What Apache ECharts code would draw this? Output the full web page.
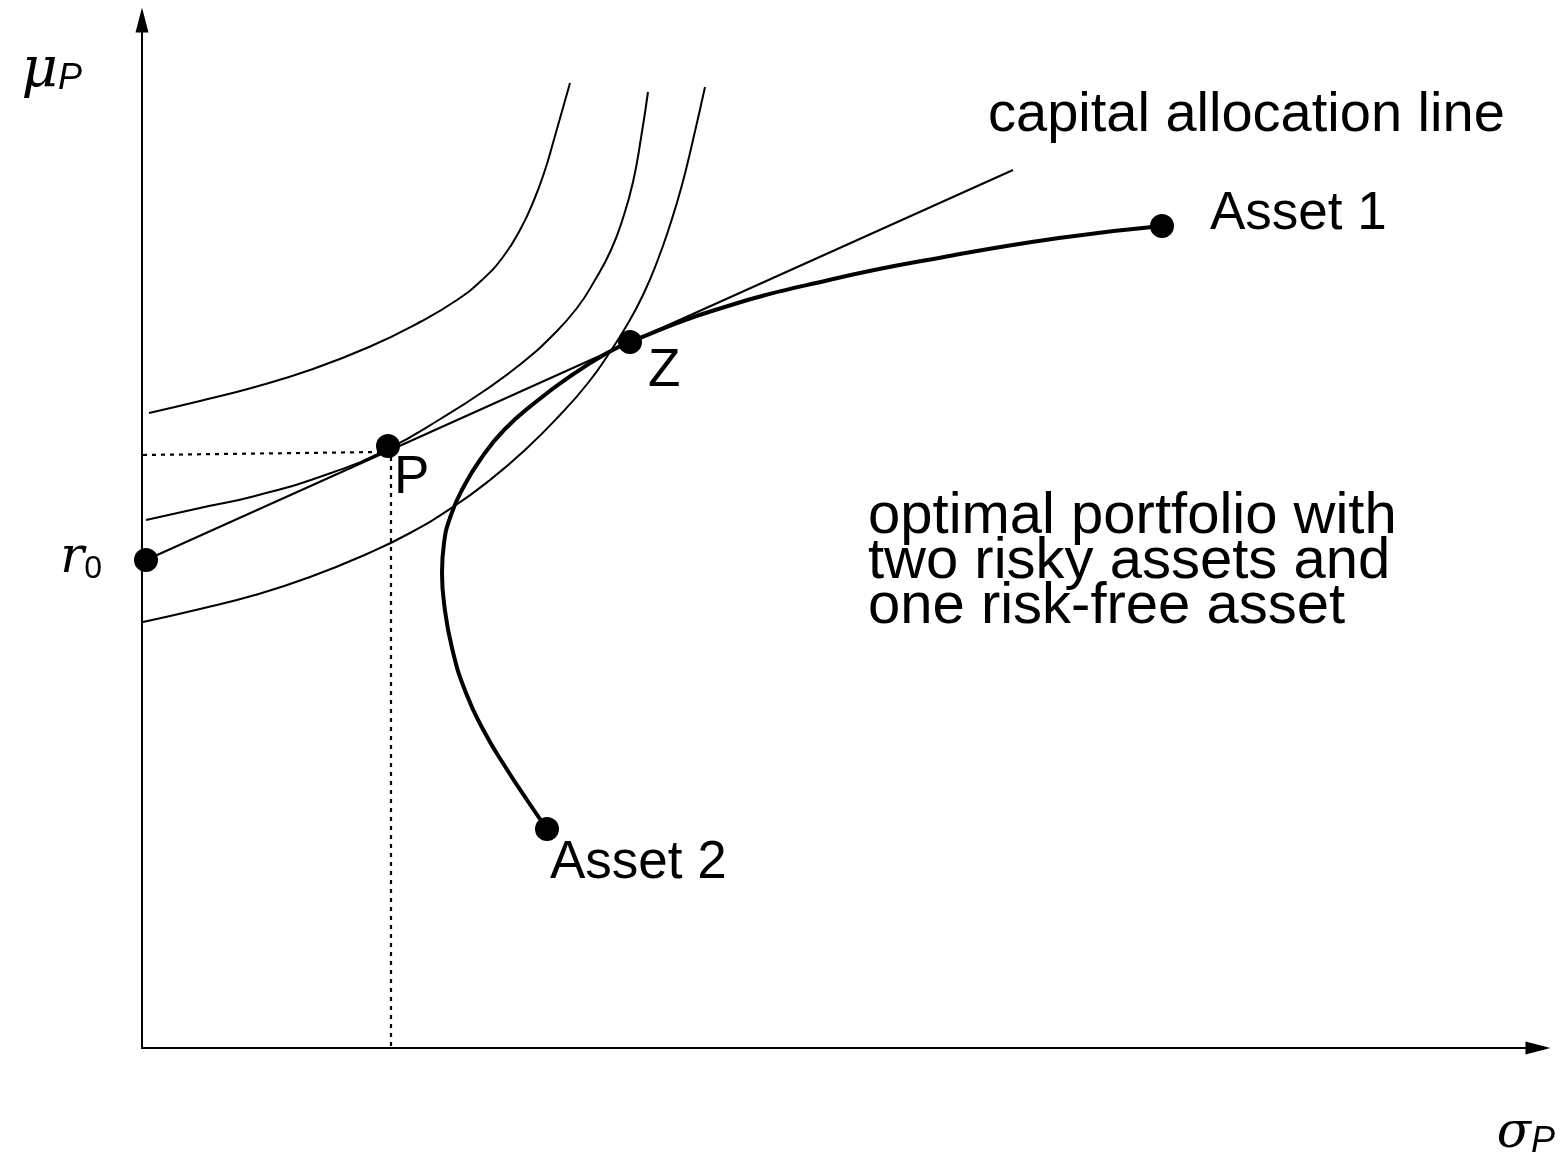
<!DOCTYPE html>
<html>
<head>
<meta charset="utf-8">
<script src="https://cdn.jsdelivr.net/npm/echarts@6/dist/echarts.min.js"></script>
<style>
html,body{margin:0;padding:0;background:#fff;}
#chart{width:1562px;height:1155px;}
</style>
</head>
<body>
<div id="chart"></div>
<script>
// Abstract units: sigma_P (x) and mu_P (y)
var indifference1 = [[7,635],[58,647],[113,661],[168,678],[227,701],[278,726],[315,748],[340,768],[361,791],[378,818],[392,848],[403,878],[411,905],[428,965]];
var indifference2 = [[4,528],[58,540],[113,552],[189,575],[246,599],[300,630],[342,657],[380,685],[410,712],[435,740],[453,768],[469,798],[481,830],[491,866],[499,910],[506,956]];
var indifference3 = [[1,426],[58,439],[113,453],[168,471],[227,495],[268,515],[311,541],[348,568],[383,598],[418,633],[446,665],[468,696],[485,723],[501,753],[515,786],[528,823],[540,863],[551,908],[563,961]];
var capitalAllocationLine = [[4,488],[871,878]];
var frontier = [[405,219],[385,248],[364,280],[343,315],[324,355],[310,400],[302,445],[300,475],[302,505],[309,533],[321,560],[338,588],[362,618],[395,647],[430,673],[465,695],[488,706],[573,738],[687,768],[802,791],[917,810],[1020,822]];
var dottedHorizontal = [[1,593],[238,596]];
var dottedVertical = [[249,591],[249,0]];
var pointNames = ['r0','P','Z','Asset 1','Asset 2'];
var pointValues = [[4,488],[246,602],[488,706],[1020,822],[405,219]];
var X_MAX = 1396, Y_MAX = 1028;

var chart = echarts.init(document.getElementById('chart'), null, {renderer:'canvas'});
var black = '#000';
function curve(data, width, smooth, type){
  return {type:'line', data:data, smooth:smooth, symbol:'none', silent:true,
    lineStyle:{color:black, width:width, type:type||'solid', opacity:1}, z:2};
}
var greek = {fontFamily:'DejaVu Serif', fontStyle:'italic', color:black};
var labelBase = {show:true, color:black, opacity:1, fontFamily:'Liberation Sans', fontSize:53, lineHeight:54, align:'left', verticalAlign:'top'};
var labelPos = {
  'r0': {position:[-32,-15], align:'right', formatter:'{r|r}{s|0}',
         rich:{r:Object.assign({fontSize:50, lineHeight:52}, greek),
               s:{fontFamily:'Liberation Sans', fontSize:32, lineHeight:20, verticalAlign:'bottom', color:black}}},
  'P': {position:[18,17], formatter:'P'},
  'Z': {position:[30,14], formatter:'Z'},
  'Asset 1': {position:[60,-27], formatter:'Asset 1'},
  'Asset 2': {position:[15,19], formatter:'Asset 2'}
};
var dots = pointNames.map(function(n,i){
  return {name:n, value:pointValues[i], label:Object.assign({}, labelBase, labelPos[n])};
});

chart.setOption({
  animation:false,
  backgroundColor:'#fff',
  grid:{left:142, right:24, top:20, bottom:107, containLabel:false, outerBoundsMode:'none'},
  xAxis:{type:'value', min:0, max:X_MAX,
    axisLine:{show:true, lineStyle:{color:black, width:2}, symbol:['none','triangle'], symbolSize:[13,25]},
    axisTick:{show:false}, axisLabel:{show:false}, splitLine:{show:false},
    name:'{m|σ}{s|P}', nameLocation:'end', nameGap:17,
    nameTextStyle:{align:'right', verticalAlign:'top', padding:[60,0,0,0],
      rich:{m:Object.assign({fontSize:50, lineHeight:52}, greek),
            s:{fontFamily:'Liberation Sans', fontStyle:'italic', fontSize:36, lineHeight:22, verticalAlign:'bottom', color:black}}}
  },
  yAxis:{type:'value', min:0, max:Y_MAX,
    axisLine:{show:true, lineStyle:{color:black, width:2}, symbol:['none','triangle'], symbolSize:[13,25]},
    axisTick:{show:false}, axisLabel:{show:false}, splitLine:{show:false},
    name:'{m|μ}{s|P}', nameLocation:'end', nameGap:-25,
    nameTextStyle:{align:'right', verticalAlign:'top', padding:[0,60,0,0],
      rich:{m:Object.assign({fontSize:56, lineHeight:52}, greek),
            s:{fontFamily:'Liberation Sans', fontStyle:'italic', fontSize:36, lineHeight:18, verticalAlign:'bottom', color:black}}}
  },
  series:[
    curve(indifference1, 2, true),
    curve(indifference2, 2, true),
    curve(indifference3, 2, true),
    curve(capitalAllocationLine, 2, false),
    curve(frontier, 4, true),
    curve(dottedHorizontal, 2.2, false, [4,5]),
    curve(dottedVertical, 2.2, false, [4,5]),
    {type:'scatter', data:dots, symbol:'circle', symbolSize:24, silent:true,
     itemStyle:{color:black, opacity:1}, z:5}
  ],
  graphic:[
    {type:'text', x:988, y:116, silent:true,
     style:{text:'capital allocation line', fill:black, font:'56px "Liberation Sans"', textAlign:'left', textVerticalAlign:'middle'}},
    {type:'text', x:868, y:494, silent:true,
     style:{text:'optimal portfolio with\ntwo risky assets and\none risk-free asset', fill:black, font:'58px "Liberation Sans"', lineHeight:45, textAlign:'left', textVerticalAlign:'top'}}
  ]
});
</script>
</body>
</html>
